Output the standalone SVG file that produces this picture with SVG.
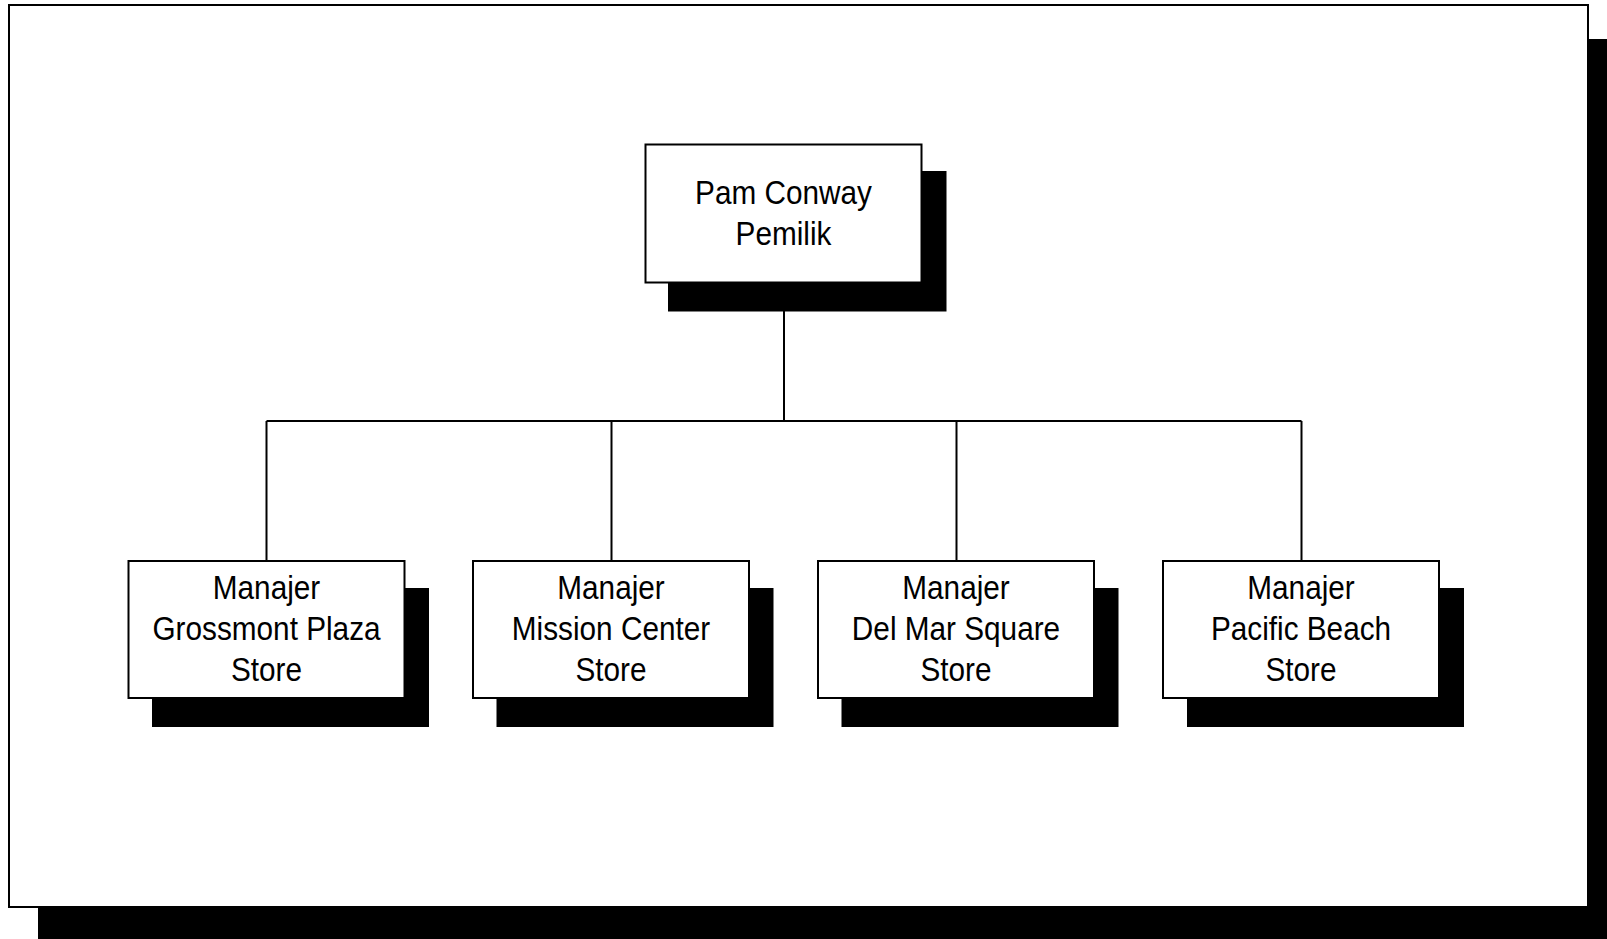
<svg xmlns="http://www.w3.org/2000/svg" width="1607" height="939" viewBox="0 0 1607 939">
<style>
.shadow{fill:#000}
.box{fill:#fff;stroke:#000;stroke-width:2}
.conn{fill:none;stroke:#000;stroke-width:2}
.t{font-family:"Liberation Sans",Arial,sans-serif;font-size:34px;fill:#000;text-anchor:middle}
</style>
<rect width="1607" height="939" fill="#fff"/>
<g id="frame">
<rect class="shadow" x="38" y="39" width="1569" height="900"/>
<rect class="box" x="9" y="5" width="1579" height="902"/>
</g>
<g id="connectors">
<path class="conn" d="M784 283V421M266.5 421H1301.5M266.5 421V561M611.5 421V561M956.5 421V561M1301.5 421V561"/>
</g>
<g id="owner">
<rect class="shadow" x="668" y="171" width="278.5" height="140.5"/>
<rect class="box" x="645.5" y="144.5" width="276" height="138"/>
<g transform="translate(783.5 0) scale(0.875 1)"><text class="t" x="0" y="204">Pam Conway</text><text class="t" x="0" y="245">Pemilik</text></g>
</g>
<g id="grossmont">
<rect class="shadow" x="152" y="588" width="277" height="139"/>
<rect class="box" x="128.5" y="561" width="276" height="137"/>
<g transform="translate(266.5 0) scale(0.875 1)"><text class="t" x="0" y="599">Manajer</text><text class="t" x="0" y="640">Grossmont Plaza</text><text class="t" x="0" y="681">Store</text></g>
</g>
<g id="mission">
<rect class="shadow" x="496.5" y="588" width="277" height="139"/>
<rect class="box" x="473" y="561" width="276" height="137"/>
<g transform="translate(611 0) scale(0.875 1)"><text class="t" x="0" y="599">Manajer</text><text class="t" x="0" y="640">Mission Center</text><text class="t" x="0" y="681">Store</text></g>
</g>
<g id="delmar">
<rect class="shadow" x="841.5" y="588" width="277" height="139"/>
<rect class="box" x="818" y="561" width="276" height="137"/>
<g transform="translate(956 0) scale(0.875 1)"><text class="t" x="0" y="599">Manajer</text><text class="t" x="0" y="640">Del Mar Square</text><text class="t" x="0" y="681">Store</text></g>
</g>
<g id="pacific">
<rect class="shadow" x="1187" y="588" width="277" height="139"/>
<rect class="box" x="1163" y="561" width="276" height="137"/>
<g transform="translate(1301 0) scale(0.875 1)"><text class="t" x="0" y="599">Manajer</text><text class="t" x="0" y="640">Pacific Beach</text><text class="t" x="0" y="681">Store</text></g>
</g>
</svg>
